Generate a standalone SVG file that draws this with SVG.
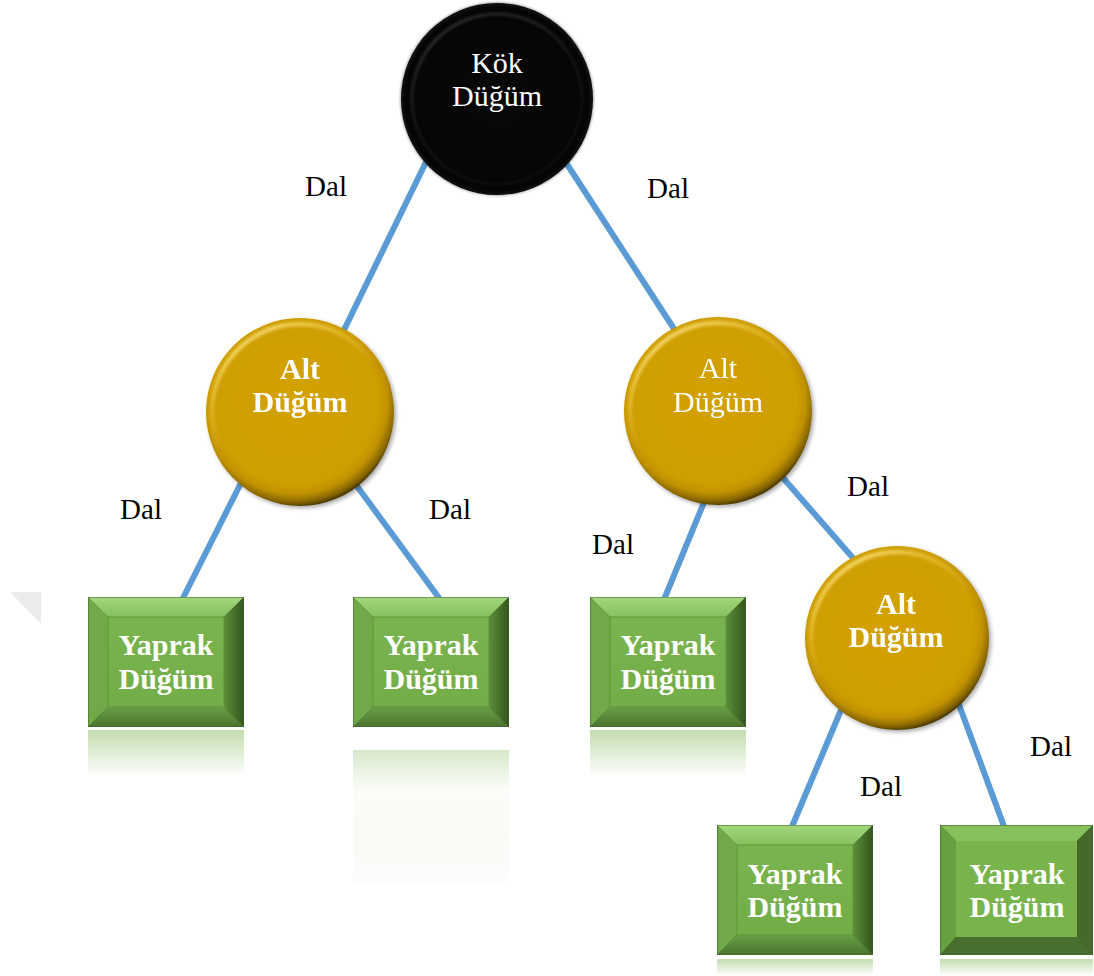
<svg xmlns="http://www.w3.org/2000/svg" width="1094" height="976" viewBox="0 0 1094 976">
  <defs>
    <style>
      .edge { stroke: #5B9BD5; stroke-width: 6; fill: none; stroke-linecap: butt; }
      .lbl { font-family: "Liberation Serif", "Times New Roman", serif; font-size: 29px; fill: #000; text-anchor: middle; }
      .nt { font-family: "Liberation Serif", "Times New Roman", serif; font-size: 30px; fill: #fff; text-anchor: middle; }
      .b { font-weight: bold; }
    </style>
    <!-- gold sphere shading -->
    <radialGradient id="goldFill" cx="0.47" cy="0.44" r="0.57">
      <stop offset="0" stop-color="#D3A205"/>
      <stop offset="0.78" stop-color="#CF9E04"/>
      <stop offset="0.87" stop-color="#C09203"/>
      <stop offset="0.95" stop-color="#856400"/>
      <stop offset="1" stop-color="#3A2C00"/>
    </radialGradient>
    <linearGradient id="goldHi" x1="0.2" y1="0" x2="0.6" y2="0.7">
      <stop offset="0" stop-color="#FFE98A" stop-opacity="0.95"/>
      <stop offset="0.45" stop-color="#F6D24A" stop-opacity="0.35"/>
      <stop offset="0.7" stop-color="#F6D24A" stop-opacity="0"/>
    </linearGradient>
    <radialGradient id="blackFill" cx="0.5" cy="0.48" r="0.55">
      <stop offset="0" stop-color="#080808"/>
      <stop offset="0.88" stop-color="#050505"/>
      <stop offset="1" stop-color="#000"/>
    </radialGradient>
    <linearGradient id="blackHi" x1="0.2" y1="0" x2="0.7" y2="1">
      <stop offset="0" stop-color="#6a6a6a" stop-opacity="0.8"/>
      <stop offset="0.5" stop-color="#3a3a3a" stop-opacity="0.5"/>
      <stop offset="1" stop-color="#2a2a2a" stop-opacity="0.3"/>
    </linearGradient>
    <filter id="soft" x="-10%" y="-10%" width="120%" height="120%">
      <feGaussianBlur stdDeviation="1.4"/>
    </filter>
    <filter id="shadow" x="-10%" y="-10%" width="125%" height="125%">
      <feGaussianBlur in="SourceAlpha" stdDeviation="2"/>
      <feOffset dx="1.5" dy="2" result="o"/>
      <feComponentTransfer><feFuncA type="linear" slope="0.35"/></feComponentTransfer>
      <feMerge><feMergeNode/><feMergeNode in="SourceGraphic"/></feMerge>
    </filter>
    <!-- leaf box bevels -->
    <linearGradient id="topBev" x1="0" y1="0" x2="0" y2="1">
      <stop offset="0" stop-color="#A2D67C"/>
      <stop offset="1" stop-color="#86C05D"/>
    </linearGradient>
    <linearGradient id="botBev" x1="0" y1="0" x2="0" y2="1">
      <stop offset="0" stop-color="#6A9F45"/>
      <stop offset="1" stop-color="#4A7430"/>
    </linearGradient>
    <linearGradient id="rightBev" x1="0" y1="0" x2="1" y2="0">
      <stop offset="0" stop-color="#5B8E3A"/>
      <stop offset="1" stop-color="#35561F"/>
    </linearGradient>
    <linearGradient id="faceFill" x1="0" y1="0" x2="0" y2="1">
      <stop offset="0" stop-color="#7AB44F"/>
      <stop offset="1" stop-color="#73AD48"/>
    </linearGradient>
    <linearGradient id="reflect" x1="0" y1="0" x2="0" y2="1">
      <stop offset="0" stop-color="#7AB44F" stop-opacity="0.45"/>
      <stop offset="1" stop-color="#7AB44F" stop-opacity="0"/>
    </linearGradient>
    <linearGradient id="reflectTall" x1="0" y1="0" x2="0" y2="1">
      <stop offset="0" stop-color="#7AB44F" stop-opacity="0.3"/>
      <stop offset="0.3" stop-color="#7AB44F" stop-opacity="0.03"/>
      <stop offset="1" stop-color="#F2F2F2" stop-opacity="0.15"/>
    </linearGradient>
    <symbol id="leafBox" viewBox="0 0 156 130" width="156" height="130" overflow="visible">
      <rect x="0" y="0" width="156" height="130" fill="#3D5F28"/>
      <polygon points="0.5,0.5 155.5,0.5 136,20 20,20" fill="url(#topBev)"/>
      <polygon points="0.5,0.5 20,20 20,110 0.5,129.5" fill="#71A948"/>
      <polygon points="155.5,0.5 155.5,129.5 136,110 136,20" fill="url(#rightBev)"/>
      <polygon points="0.5,129.5 20,110 136,110 155.5,129.5" fill="url(#botBev)"/>
      <rect x="20" y="20" width="116" height="90" fill="url(#faceFill)" stroke="#5F9438" stroke-width="1"/>
    </symbol>
    <symbol id="leafBoxB" viewBox="0 0 153 130" width="153" height="130" overflow="visible">
      <rect x="0" y="0" width="153" height="130" fill="#3D5F28"/>
      <polygon points="0.5,0.5 152.5,0.5 137,16 16,16" fill="#86C15C"/>
      <polygon points="0.5,0.5 16,16 16,112 0.5,129.5" fill="#67A040"/>
      <polygon points="152.5,0.5 152.5,129.5 137,112 137,16" fill="#44692B"/>
      <polygon points="0.5,129.5 16,112 137,112 152.5,129.5" fill="#496F2E"/>
      <rect x="16" y="16" width="121" height="96" fill="#78B34C"/>
    </symbol>
  </defs>

  <rect x="0" y="0" width="1094" height="976" fill="#ffffff"/>

  <!-- faint corner mark on the left edge -->
  <polygon points="10,592 41,592 41,624" fill="#EBEBEB"/>

  <!-- branches -->
  <g id="connectors">
    <line class="edge" x1="428" y1="158" x2="343" y2="332"/>
    <line class="edge" x1="563" y1="158" x2="678" y2="335"/>
    <line class="edge" x1="245" y1="475" x2="181" y2="602"/>
    <line class="edge" x1="351" y1="478" x2="442" y2="602"/>
    <line class="edge" x1="707" y1="495" x2="663" y2="602"/>
    <line class="edge" x1="777" y1="471" x2="860" y2="566"/>
    <line class="edge" x1="841" y1="710" x2="791" y2="829"/>
    <line class="edge" x1="958" y1="702" x2="1005" y2="829"/>
  </g>

  <!-- branch labels -->
  <g id="labels">
    <text class="lbl" x="326" y="196">Dal</text>
    <text class="lbl" x="668" y="198">Dal</text>
    <text class="lbl" x="141" y="519">Dal</text>
    <text class="lbl" x="450" y="519">Dal</text>
    <text class="lbl" x="613" y="554">Dal</text>
    <text class="lbl" x="868" y="496">Dal</text>
    <text class="lbl" x="1051" y="756">Dal</text>
    <text class="lbl" x="881" y="796">Dal</text>
  </g>

  <!-- root -->
  <g id="root">
    <circle cx="497" cy="99" r="96" fill="url(#blackFill)"/>
    <circle cx="497" cy="99" r="85" fill="none" stroke="url(#blackHi)" stroke-width="1.6" filter="url(#soft)"/>
    <circle cx="497" cy="99" r="95" fill="none" stroke="#222" stroke-width="1.5" filter="url(#soft)"/>
    <text class="nt" x="497" y="73">Kök</text>
    <text class="nt" x="497" y="106">Düğüm</text>
  </g>

  <!-- inner nodes -->
  <g id="alt-left" filter="url(#shadow)">
    <circle cx="300" cy="412" r="94" fill="url(#goldFill)"/>
    <circle cx="300" cy="412" r="88" fill="none" stroke="url(#goldHi)" stroke-width="4" filter="url(#soft)"/>
    <text class="nt b" x="300" y="379">Alt</text>
    <text class="nt b" x="300" y="412">Düğüm</text>
  </g>
  <g id="alt-right" filter="url(#shadow)">
    <circle cx="718" cy="411" r="94" fill="url(#goldFill)"/>
    <circle cx="718" cy="411" r="88" fill="none" stroke="url(#goldHi)" stroke-width="4" filter="url(#soft)"/>
    <text class="nt" x="718" y="378">Alt</text>
    <text class="nt" x="718" y="412">Düğüm</text>
  </g>
  <g id="alt-lower" filter="url(#shadow)">
    <circle cx="897" cy="638" r="92" fill="url(#goldFill)"/>
    <circle cx="897" cy="638" r="86" fill="none" stroke="url(#goldHi)" stroke-width="4" filter="url(#soft)"/>
    <text class="nt b" x="896" y="614">Alt</text>
    <text class="nt b" x="896" y="647">Düğüm</text>
  </g>

  <!-- leaves -->
  <g id="leaf-1">
    <rect x="88" y="730" width="156" height="46" fill="url(#reflect)"/>
    <use href="#leafBox" x="88" y="597"/>
    <text class="nt b" x="166" y="655">Yaprak</text>
    <text class="nt b" x="166" y="689">Düğüm</text>
  </g>
  <g id="leaf-2">
    <rect x="353" y="750" width="156" height="133" fill="url(#reflectTall)"/>
    <use href="#leafBox" x="353" y="597"/>
    <text class="nt b" x="431" y="655">Yaprak</text>
    <text class="nt b" x="431" y="689">Düğüm</text>
  </g>
  <g id="leaf-3">
    <rect x="590" y="730" width="156" height="46" fill="url(#reflect)"/>
    <use href="#leafBox" x="590" y="597"/>
    <text class="nt b" x="668" y="655">Yaprak</text>
    <text class="nt b" x="668" y="689">Düğüm</text>
  </g>
  <g id="leaf-4">
    <rect x="717" y="959" width="156" height="17" fill="url(#reflect)"/>
    <use href="#leafBox" x="717" y="825"/>
    <text class="nt b" x="795" y="884">Yaprak</text>
    <text class="nt b" x="795" y="917">Düğüm</text>
  </g>
  <g id="leaf-5">
    <rect x="940" y="959" width="153" height="17" fill="url(#reflect)"/>
    <use href="#leafBoxB" x="940" y="825"/>
    <text class="nt b" x="1017" y="884">Yaprak</text>
    <text class="nt b" x="1017" y="917">Düğüm</text>
  </g>
</svg>
